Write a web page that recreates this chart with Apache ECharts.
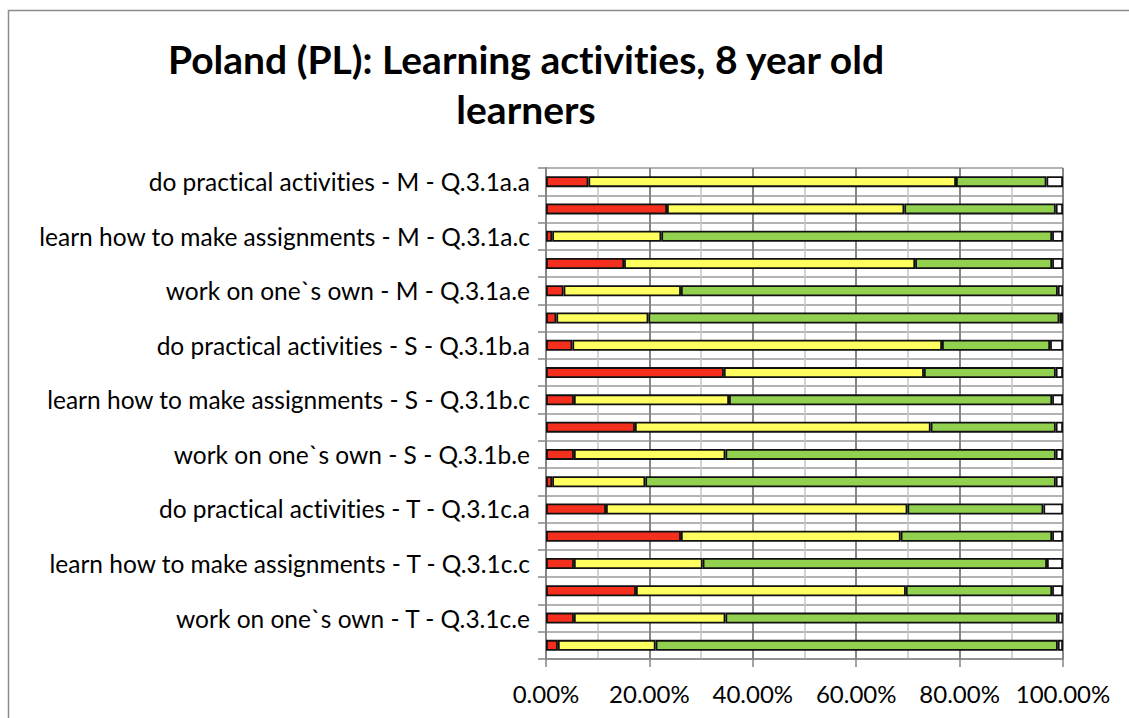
<!DOCTYPE html>
<html>
<head>
<meta charset="utf-8">
<script src="https://cdn.jsdelivr.net/npm/echarts@6/dist/echarts.min.js"></script>
<style>
html,body{margin:0;padding:0;background:#fff;}
#chart{width:1129px;height:718px;}
#chart text{font-variant-ligatures:none !important;font-feature-settings:"liga" 0,"clig" 0 !important;}
</style>
</head>
<body>
<div id="chart"></div>
<script>
const titleText = "Poland (PL): Learning activities, 8 year old\nlearners";
const categories = [
  "do practical activities - M - Q.3.1a.a",
  "M - Q.3.1a.b",
  "learn how to make assignments - M - Q.3.1a.c",
  "M - Q.3.1a.d",
  "work on one`s own - M - Q.3.1a.e",
  "M - Q.3.1a.f",
  "do practical activities - S - Q.3.1b.a",
  "S - Q.3.1b.b",
  "learn how to make assignments - S - Q.3.1b.c",
  "S - Q.3.1b.d",
  "work on one`s own - S - Q.3.1b.e",
  "S - Q.3.1b.f",
  "do practical activities - T - Q.3.1c.a",
  "T - Q.3.1c.b",
  "learn how to make assignments - T - Q.3.1c.c",
  "T - Q.3.1c.d",
  "work on one`s own - T - Q.3.1c.e",
  "T - Q.3.1c.f"
];
const seriesNames = ["Never", "Sometimes", "Often", "No answer"];
const redValues    = [8.2, 23.4, 1.2, 15.1, 3.4, 2.0, 5.1, 34.4, 5.4, 17.2, 5.4, 1.2, 11.6, 26.1, 5.4, 17.4, 5.4, 2.3];
const yellowValues = [71.1, 45.9, 21.1, 56.3, 22.7, 17.8, 71.5, 38.7, 30.0, 57.2, 29.3, 18.0, 58.3, 42.5, 24.9, 52.2, 29.3, 18.9];
const greenValues  = [17.5, 29.3, 75.6, 26.5, 72.9, 79.5, 20.9, 25.5, 62.5, 24.2, 63.9, 79.4, 26.3, 29.3, 66.6, 28.3, 64.3, 77.8];
const whiteValues  = [3.2, 1.4, 2.1, 2.1, 1.0, 0.7, 2.5, 1.4, 2.1, 1.4, 1.4, 1.4, 3.8, 2.1, 3.1, 2.1, 1.0, 1.0];
const xTicks = [0, 20, 40, 60, 80, 100];

const colors = ["#F52F1D", "#FFFF5F", "#92D050", "#FFFFFF"];
const valueSets = [redValues, yellowValues, greenValues, whiteValues];

const chart = echarts.init(document.getElementById('chart'), null, {renderer: 'svg'});
const FONT = 'Lato, "Open Sans", sans-serif';

const option = {
  backgroundColor: '#fff',
  animation: false,
  graphic: [
    {type: 'rect', z: -10, silent: true,
     shape: {x: 8.5, y: 10.5, width: 1300, height: 900},
     style: {fill: 'none', stroke: '#8c8c8c', lineWidth: 1.5}},
    {type: 'text', x: 526, y: 34, z: 10,
     style: {text: titleText, font: 'bold 39px ' + FONT, textAlign: 'center',
             textVerticalAlign: 'top', lineHeight: 50, fill: '#000'}}
  ],
  grid: {left: 546, right: 66, top: 168, bottom: 59, containLabel: false},
  xAxis: {
    type: 'value', min: 0, max: 100, interval: 20,
    axisLine: {show: true, lineStyle: {color: '#868686', width: 1.5}},
    axisTick: {show: true, length: 8, lineStyle: {color: '#868686', width: 1.5}},
    axisLabel: {margin: 22, color: '#000', fontSize: 24, fontFamily: FONT,
                formatter: v => xTicks.indexOf(v) >= 0 ? v.toFixed(2) + '%' : ''},
    splitLine: {show: true, lineStyle: {color: '#868686', width: 2}},
    minorTick: {show: false, splitNumber: 2},
    minorSplitLine: {show: true, lineStyle: {color: '#c4c4c4', width: 1.5}}
  },
  yAxis: {
    type: 'category', inverse: true, data: categories,
    axisLine: {show: true, lineStyle: {color: '#868686', width: 2}},
    axisTick: {show: true, length: 8, interval: 0, lineStyle: {color: '#868686', width: 1.5}},
    axisLabel: {interval: 1, margin: 16, color: '#000', fontSize: 24.5, fontFamily: FONT},
    splitLine: {show: true, interval: 0, lineStyle: {color: '#9a9a9a', width: 1.5}}
  },
  series: valueSets.map((vals, i) => ({
    name: seriesNames[i], type: 'bar', stack: 'total', data: vals,
    barWidth: 11,
    itemStyle: {color: colors[i], borderColor: '#111', borderWidth: 1.8}
  }))
};
chart.setOption(option);
</script>
</body>
</html>
